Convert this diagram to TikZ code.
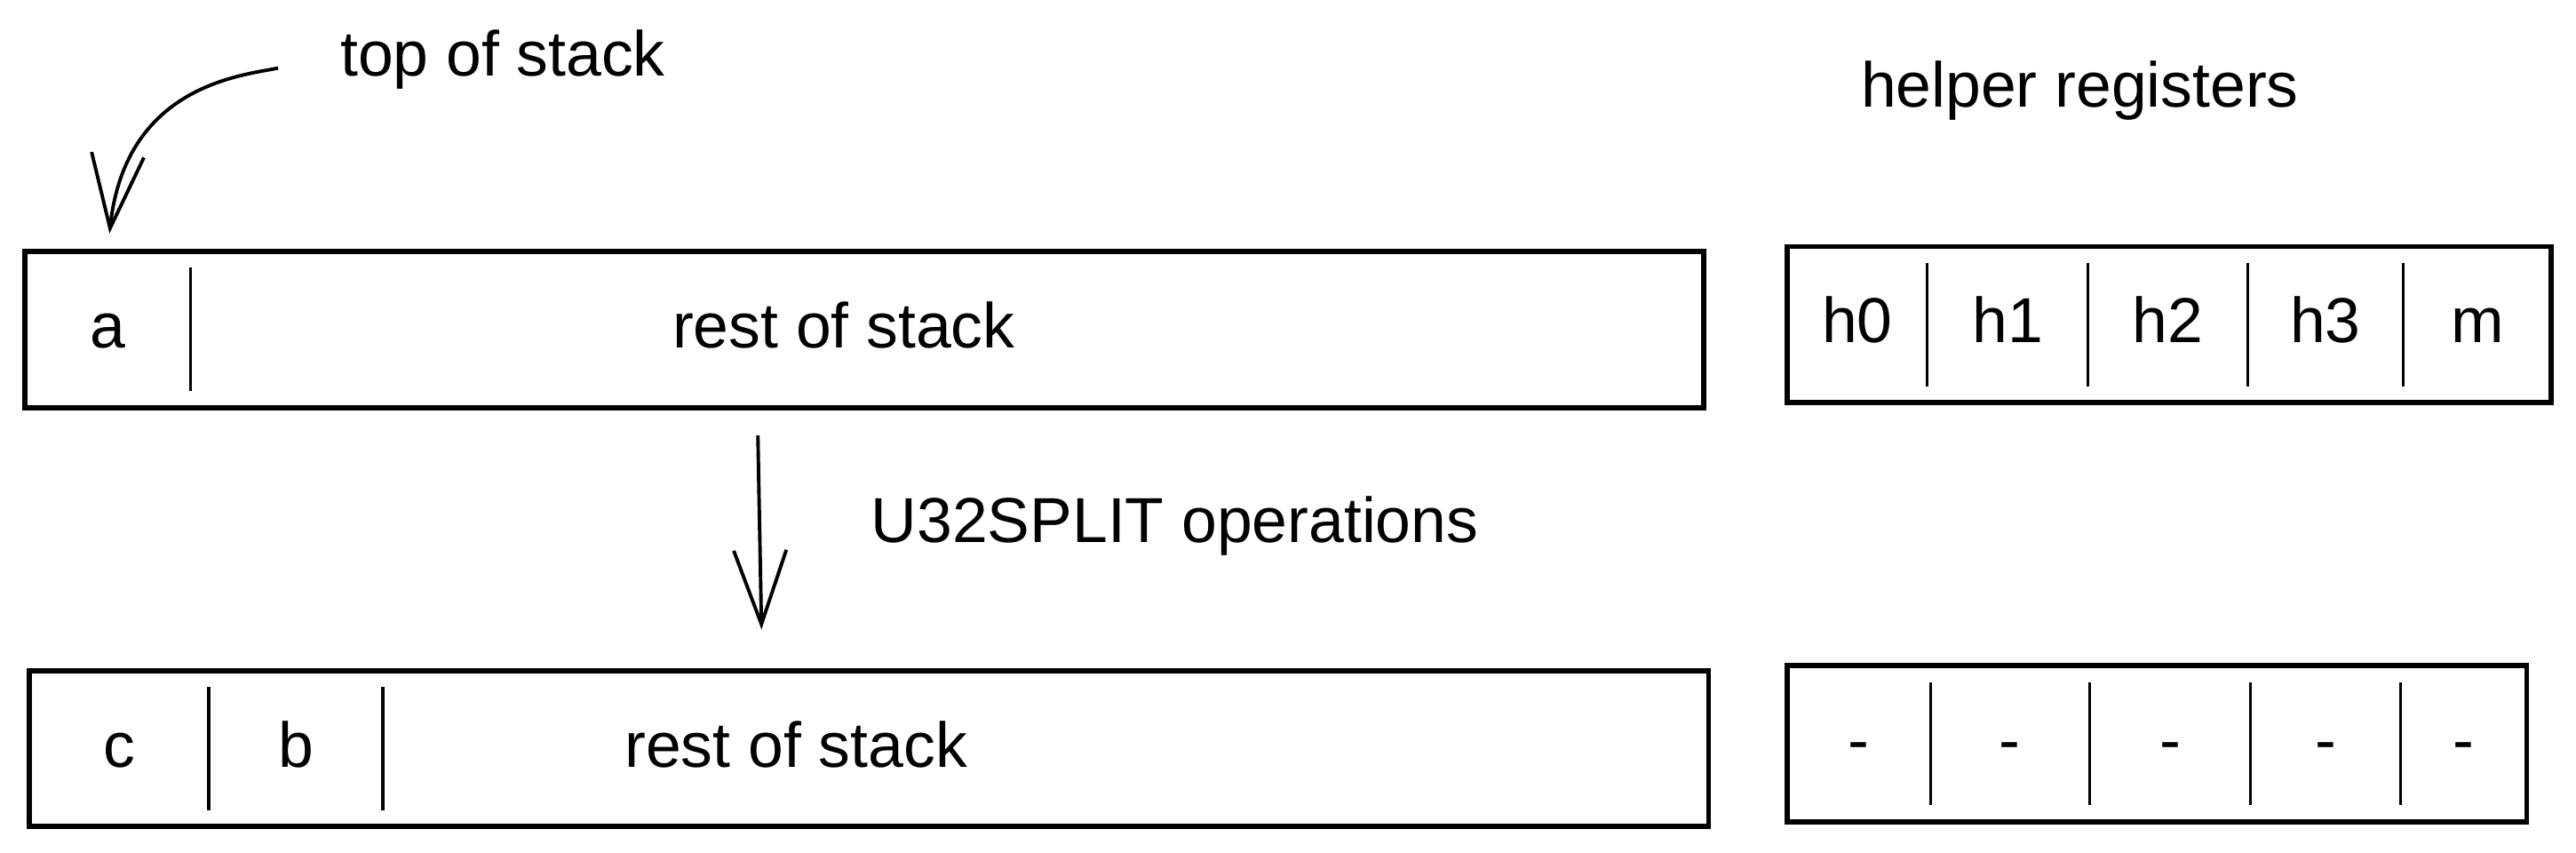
\documentclass[tikz,border=0pt]{standalone}
\usepackage{fontspec}
\setmainfont{Liberation Sans}
\usetikzlibrary{positioning,fit,arrows.meta}

\tikzset{
	cell/.style={minimum height=0.95cm,inner sep=0pt,outer sep=0pt,text height=1.6ex,text depth=0.4ex},
	box/.style={draw,line width=0.9pt,inner sep=0pt,outer sep=0pt},
	sep/.style={line width=0.5pt},
	arr/.style={-{Straight Barb[length=4.5mm,width=3.2mm]},line width=0.6pt},
}

\begin{document}
\begin{tikzpicture}[font=\fontsize{11pt}{13pt}\selectfont]
	\useasboundingbox (0,0) rectangle (15.68,5.19);
	\node[cell,minimum width=1.01cm,anchor=north west] (a) at (0.15,3.66) {a};
	\node[cell,minimum width=9.21cm,right=0pt of a] (rest1) {};
	\node[cell] (rest1l) at ([xshift=-0.63cm]rest1.center) {rest of stack};
	\node[box,fit=(a)(rest1)] (stack1) {};
	\draw[sep] ([yshift=-1mm]a.north east) -- ([yshift=1mm]a.south east);

	\node[cell,minimum width=1.09cm,anchor=north west] (c) at (0.18,1.11) {c};
	\node[cell,minimum width=1.06cm,right=0pt of c] (b) {b};
	\node[cell,minimum width=8.07cm,right=0pt of b] (rest2) {};
	\node[cell] (rest2l) at ([xshift=-1.52cm]rest2.center) {rest of stack};
	\node[box,fit=(c)(rest2)] (stack2) {};
	\draw[sep] ([yshift=-1mm]c.north east) -- ([yshift=1mm]c.south east);
	\draw[sep] ([yshift=-1mm]b.north east) -- ([yshift=1mm]b.south east);

	\node[cell,minimum width=0.85cm,anchor=north west] (h0) at (10.88,3.69) {h0};
	\node[cell,minimum width=0.98cm,right=0pt of h0] (h1) {h1};
	\node[cell,minimum width=0.97cm,right=0pt of h1] (h2) {h2};
	\node[cell,minimum width=0.95cm,right=0pt of h2] (h3) {h3};
	\node[cell,minimum width=0.90cm,right=0pt of h3] (m) {m};
	\node[box,fit=(h0)(m)] (regs1) {};
	\foreach \r in {h0,h1,h2,h3}
		\draw[sep] ([yshift=-1mm]\r.north east) -- ([yshift=1mm]\r.south east);

	\node[cell,minimum width=0.87cm,anchor=north west] (d0) at (10.88,1.14) {-};
	\node[cell,minimum width=0.97cm,right=0pt of d0] (d1) {-};
	\node[cell,minimum width=0.98cm,right=0pt of d1] (d2) {-};
	\node[cell,minimum width=0.91cm,right=0pt of d2] (d3) {-};
	\node[cell,minimum width=0.77cm,right=0pt of d3] (d4) {-};
	\node[box,fit=(d0)(d4)] (regs2) {};
	\foreach \r in {d0,d1,d2,d3}
		\draw[sep] ([yshift=-1mm]\r.north east) -- ([yshift=1mm]\r.south east);

	\node (top) at (3.06,4.83) {top of stack};
	\node (helper) at (12.66,4.64) {helper registers};

	\draw[arr,shorten <=0.26cm,shorten >=0.11cm] (top.west) to[out=192,in=84,out looseness=0.7,in looseness=1.5] (a.north);
	\draw[arr,shorten <=0.17cm,shorten >=0.25cm] ([xshift=-0.65cm]stack1.south) -- node[midway,anchor=west,xshift=0.55cm,yshift=0.08cm] (split) {U32SPLIT operations} ([xshift=-0.65cm]stack2.north);
\end{tikzpicture}
\end{document}
